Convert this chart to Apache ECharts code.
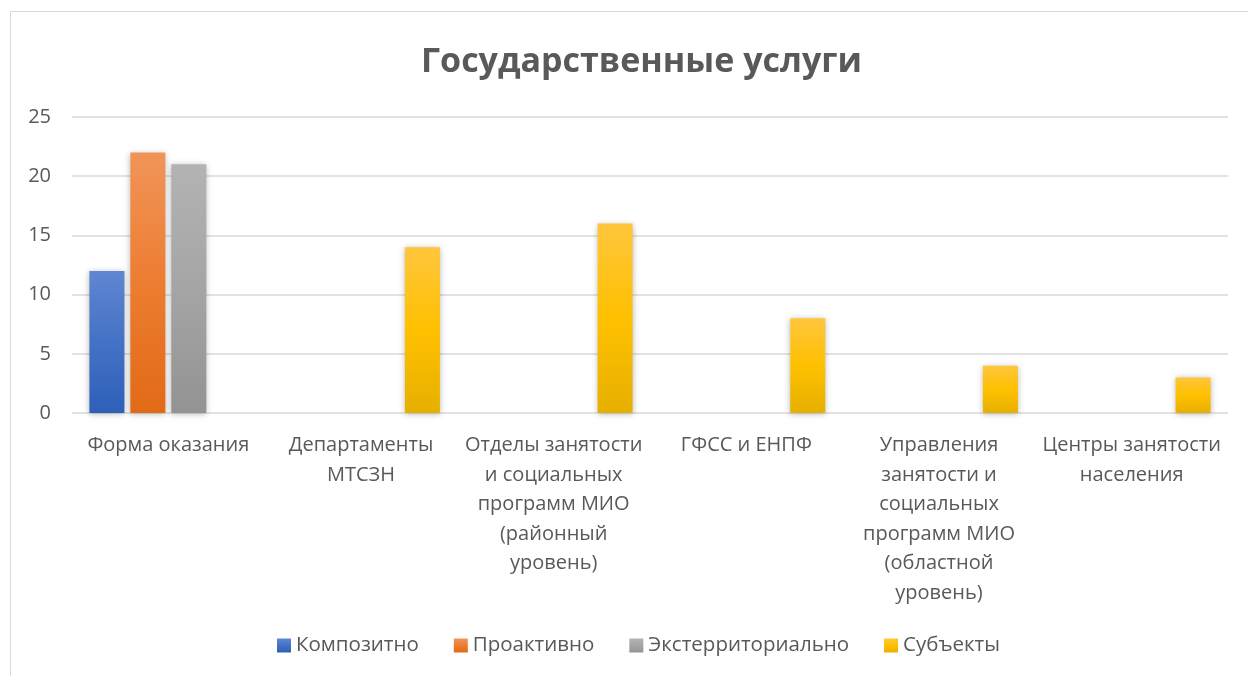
<!DOCTYPE html>
<html>
<head>
<meta charset="utf-8">
<script src="https://cdn.jsdelivr.net/npm/echarts@6/dist/echarts.min.js"></script>
<style>
  html, body { margin: 0; padding: 0; background: #fff; }
  #frame { position: absolute; left: 10px; top: 11px; width: 1240px; height: 670px; border: 1px solid #d9d9d9; box-sizing: border-box; }
  #chart { position: absolute; left: 0; top: 0; width: 1248px; height: 676px; }
</style>
</head>
<body>
<div id="frame"></div>
<div id="chart"></div>
<script>
const categories = [
  'Форма оказания',
  'Департаменты\nМТСЗН',
  'Отделы занятости\nи социальных\nпрограмм МИО\n(районный\nуровень)',
  'ГФСС и ЕНПФ',
  'Управления\nзанятости и\nсоциальных\nпрограмм МИО\n(областной\nуровень)',
  'Центры занятости\nнаселения'
]
const seriesNames = ['Композитно', 'Проактивно', 'Экстерриториально', 'Субъекты']
const kompozitno = [12, null, null, null, null, null]
const proaktivno = [22, null, null, null, null, null]
const eksterr = [21, null, null, null, null, null]
const subekty = [null, 14, 16, 8, 4, 3]
const yTicks = [0, 5, 10, 15, 20, 25]

// top / middle / bottom colours of the excel-like gradients
const colors = [
  ['#5f86d2', '#4472c4', '#2e5fba'],
  ['#f19459', '#ed7d31', '#e16a16'],
  ['#b3b3b3', '#a5a5a5', '#939393'],
  ['#ffc63d', '#ffc000', '#e6b000']
]

const grad = (c) => new echarts.graphic.LinearGradient(0, 0, 0, 1, [
  { offset: 0, color: c[0] },
  { offset: 0.5, color: c[1] },
  { offset: 1, color: c[2] }
])

const chart = echarts.init(document.getElementById('chart'))
const values = [kompozitno, proaktivno, eksterr, subekty]

chart.setOption({
  animation: false,
  title: {
    text: 'Государственные услуги',
    left: 416,
    top: 40,
    textStyle: {
      fontFamily: 'Open Sans',
      fontSize: 34,
      fontWeight: 'bold',
      color: '#595959'
    }
  },
  legend: {
    bottom: 15,
    left: 272,
    itemWidth: 14,
    itemHeight: 14,
    itemGap: 35,
    icon: 'rect',
    textStyle: {
      fontFamily: 'Open Sans',
      fontSize: 20.5,
      color: '#595959'
    },
    data: seriesNames.map((n, i) => ({ name: n, itemStyle: { color: grad(colors[i]) } }))
  },
  grid: {
    left: 72,
    right: 20,
    top: 117,
    bottom: 263
  },
  xAxis: {
    type: 'category',
    data: categories,
    axisLine: { show: false },
    axisTick: { show: false },
    axisLabel: {
      interval: 0,
      margin: 18,
      fontFamily: 'Open Sans',
      fontSize: 20,
      lineHeight: 29.5,
      color: '#595959',
      align: 'center',
      verticalAlign: 'top'
    }
  },
  yAxis: {
    type: 'value',
    min: yTicks[0],
    max: yTicks[yTicks.length - 1],
    interval: 5,
    axisLine: { show: false },
    axisTick: { show: false },
    axisLabel: {
      margin: 21,
      fontFamily: 'Open Sans',
      fontSize: 20,
      color: '#595959'
    },
    splitLine: {
      lineStyle: { color: '#d9d9d9', width: 1.5 }
    }
  },
  series: seriesNames.map((name, i) => ({
    name: name,
    type: 'bar',
    barWidth: 35,
    barGap: '17%',
    data: values[i],
    itemStyle: {
      color: grad(colors[i]),
      shadowColor: 'rgba(0,0,0,0.28)',
      shadowBlur: 6,
      shadowOffsetY: 1
    }
  }))
})
</script>
</body>
</html>
